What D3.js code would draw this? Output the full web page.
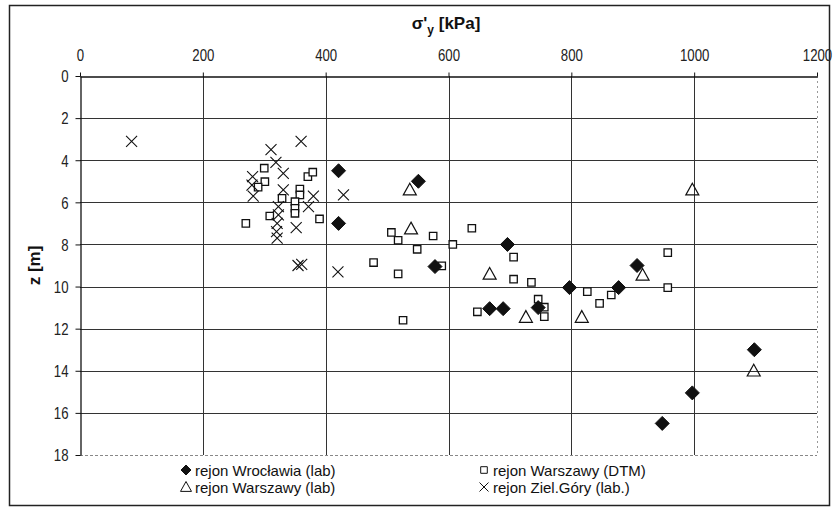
<!DOCTYPE html>
<html>
<head>
<meta charset="utf-8">
<script src="https://cdn.jsdelivr.net/npm/d3@7"></script>
<style>
  html, body { margin: 0; padding: 0; background: #fff; }
  svg { display: block; }
</style>
</head>
<body>
<svg id="chart" width="836" height="512"></svg>
<script>
// tick values
const xTicks = [0, 200, 400, 600, 800, 1000, 1200];
const zTicks = [0, 2, 4, 6, 8, 10, 12, 14, 16, 18];

// series: [sigma'y kPa, z m]
const wroclawLab = [
  [421, 4.5], [421, 7.0], [551, 5.0], [578, 9.05], [696, 8.0],
  [667, 11.05], [689, 11.05], [746, 11.0], [797, 10.05], [877, 10.05],
  [907, 9.0], [1098, 13.0], [997, 15.05], [948, 16.5]
];
const warszawaLab = [
  [537, 5.4], [539, 7.25], [667, 9.4], [726, 11.45], [817, 11.45],
  [916, 9.45], [997, 5.4], [1097, 14.0]
];
const warszawaDTM = [
  [300, 4.38], [371, 4.78], [379, 4.57], [301, 5.02], [290, 5.28],
  [358, 5.37], [358, 5.65], [350, 5.97], [350, 6.28], [350, 6.52],
  [329, 5.81], [390, 6.79], [309, 6.65], [270, 7.0], [507, 7.43],
  [518, 7.8], [549, 8.23], [575, 7.6], [607, 8.0], [638, 7.23],
  [478, 8.86], [518, 9.4], [526, 11.6], [589, 9.02], [706, 8.6],
  [706, 9.65], [735, 9.8], [647, 11.2], [746, 10.6], [756, 10.98],
  [756, 11.43], [826, 10.24], [846, 10.8], [865, 10.4], [957, 8.39],
  [957, 10.05]
];
const zielGoraLab = [
  [84, 3.1], [360, 3.1], [311, 3.5], [319, 4.1], [331, 4.62],
  [281, 4.78], [280, 5.18], [282, 5.7], [331, 5.41], [380, 5.7],
  [372, 6.2], [429, 5.65], [323, 6.2], [323, 6.6], [321, 7.0],
  [320, 7.39], [321, 7.7], [352, 7.2], [355, 9.0], [361, 8.95],
  [420, 9.3]
];

const legendLabels = [
  "rejon Wrocławia (lab)", "rejon Warszawy (DTM)",
  "rejon Warszawy (lab)", "rejon Ziel.Góry (lab.)"
];

const svg = d3.select("#chart");
const font = "'Liberation Sans', Arial, sans-serif";

const x = d3.scaleLinear().domain([0, 1200]).range([80, 817]);
const y = d3.scaleLinear().domain([0, 18]).range([76, 455]);

// outer frame
svg.append("rect")
  .attr("x", 9.5).attr("y", 5.5)
  .attr("width", 820).attr("height", 500)
  .attr("fill", "none").attr("stroke", "#222").attr("stroke-width", 1.5);

// grid
const grid = svg.append("g");
grid.selectAll(".hg").data(zTicks.slice(1, -1)).join("line")
  .attr("x1", x(0)).attr("x2", x(1200))
  .attr("y1", d => Math.round(y(d)) + 0.5).attr("y2", d => Math.round(y(d)) + 0.5)
  .attr("stroke", "#333").attr("stroke-width", 1);
grid.selectAll(".vg").data(xTicks.slice(1, -1)).join("line")
  .attr("y1", y(0)).attr("y2", y(18))
  .attr("x1", d => Math.round(x(d)) + 0.5).attr("x2", d => Math.round(x(d)) + 0.5)
  .attr("stroke", "#333").attr("stroke-width", 1);
// light right / bottom edges
grid.append("line")
  .attr("x1", x(1200) + 0.5).attr("x2", x(1200) + 0.5)
  .attr("y1", y(0)).attr("y2", y(18))
  .attr("stroke", "#999").attr("stroke-dasharray", "2,3");
grid.append("line")
  .attr("x1", x(0)).attr("x2", x(1200))
  .attr("y1", y(18) + 0.5).attr("y2", y(18) + 0.5)
  .attr("stroke", "#888").attr("stroke-dasharray", "3,2");

// axes
const xAxis = svg.append("g")
  .attr("transform", `translate(0,${y(0) + 0.5})`)
  .call(d3.axisTop(x).tickValues(xTicks).tickFormat(d3.format("d"))
    .tickSize(4).tickSizeOuter(0));
const yAxis = svg.append("g")
  .attr("transform", `translate(${x(0) + 0.5},0)`)
  .call(d3.axisLeft(y).tickValues(zTicks).tickFormat(d3.format("d"))
    .tickSize(5).tickSizeOuter(0));
[xAxis, yAxis].forEach(g => {
  g.select(".domain").attr("stroke", "#111").attr("stroke-width", 1.3);
  g.selectAll(".tick line").attr("stroke", "#111");
  // narrow look, like the scanned original
  g.selectAll("text")
    .attr("font-family", font).attr("font-size", 16.5).attr("fill", "#222")
    .attr("transform", "scale(0.8,1)");
});
xAxis.selectAll("text").attr("dy", "-0.3em").attr("y", -11);
yAxis.selectAll("text").attr("x", -15).attr("dy", "0.35em");

// titles
const title = svg.append("text")
  .attr("x", 446).attr("y", 29)
  .attr("text-anchor", "middle")
  .attr("font-family", font).attr("font-weight", "bold")
  .attr("font-size", 17).attr("fill", "#111");
title.append("tspan").text("σ'");
title.append("tspan").attr("font-size", 12).attr("dy", 5).text("y");
title.append("tspan").attr("dy", -5).text(" [kPa]");

svg.append("text")
  .attr("transform", `translate(40,${y(9)}) rotate(-90)`)
  .attr("text-anchor", "middle")
  .attr("font-family", font).attr("font-weight", "bold")
  .attr("font-size", 17).attr("fill", "#111")
  .text("z [m]");

// marker paths
const diamond = r => `M0,${-r}L${r},0L0,${r}L${-r},0Z`;
const square = r => `M${-r},${-r}H${r}V${r}H${-r}Z`;
const triangle = r => `M0,${-r}L${r},${r * 0.8}H${-r}Z`;
const cross = r => `M${-r},${-r}L${r},${r}M${-r},${r}L${r},${-r}`;

const series = [
  { data: warszawaDTM, path: square(3.7), fill: "#fff", sw: 1.3 },
  { data: zielGoraLab, path: cross(5.5), fill: "none", sw: 1.1 },
  { data: warszawaLab, path: triangle(6.5), fill: "none", sw: 1.2 },
  { data: wroclawLab, path: diamond(7), fill: "#111", sw: 1 }
];
series.forEach(s => {
  svg.append("g").selectAll("path").data(s.data).join("path")
    .attr("transform", d => `translate(${x(d[0])},${y(d[1])})`)
    .attr("d", s.path)
    .attr("fill", s.fill)
    .attr("stroke", "#111")
    .attr("stroke-width", s.sw);
});

// legend
const legendItems = [
  { label: legendLabels[0], path: diamond(5), fill: "#111", lx: 186, ly: 470 },
  { label: legendLabels[1], path: square(3.3), fill: "#fff", lx: 484, ly: 470 },
  { label: legendLabels[2], path: triangle(5.5), fill: "none", lx: 186, ly: 487 },
  { label: legendLabels[3], path: cross(4.5), fill: "none", lx: 484, ly: 487 }
];
const legend = svg.append("g");
legendItems.forEach(it => {
  legend.append("path")
    .attr("transform", `translate(${it.lx},${it.ly})`)
    .attr("d", it.path).attr("fill", it.fill)
    .attr("stroke", "#111").attr("stroke-width", 1);
  legend.append("text")
    .attr("x", it.lx + 9).attr("y", it.ly + 5.5)
    .attr("font-family", font).attr("font-size", 15).attr("fill", "#111")
    .text(it.label);
});
</script>
</body>
</html>
